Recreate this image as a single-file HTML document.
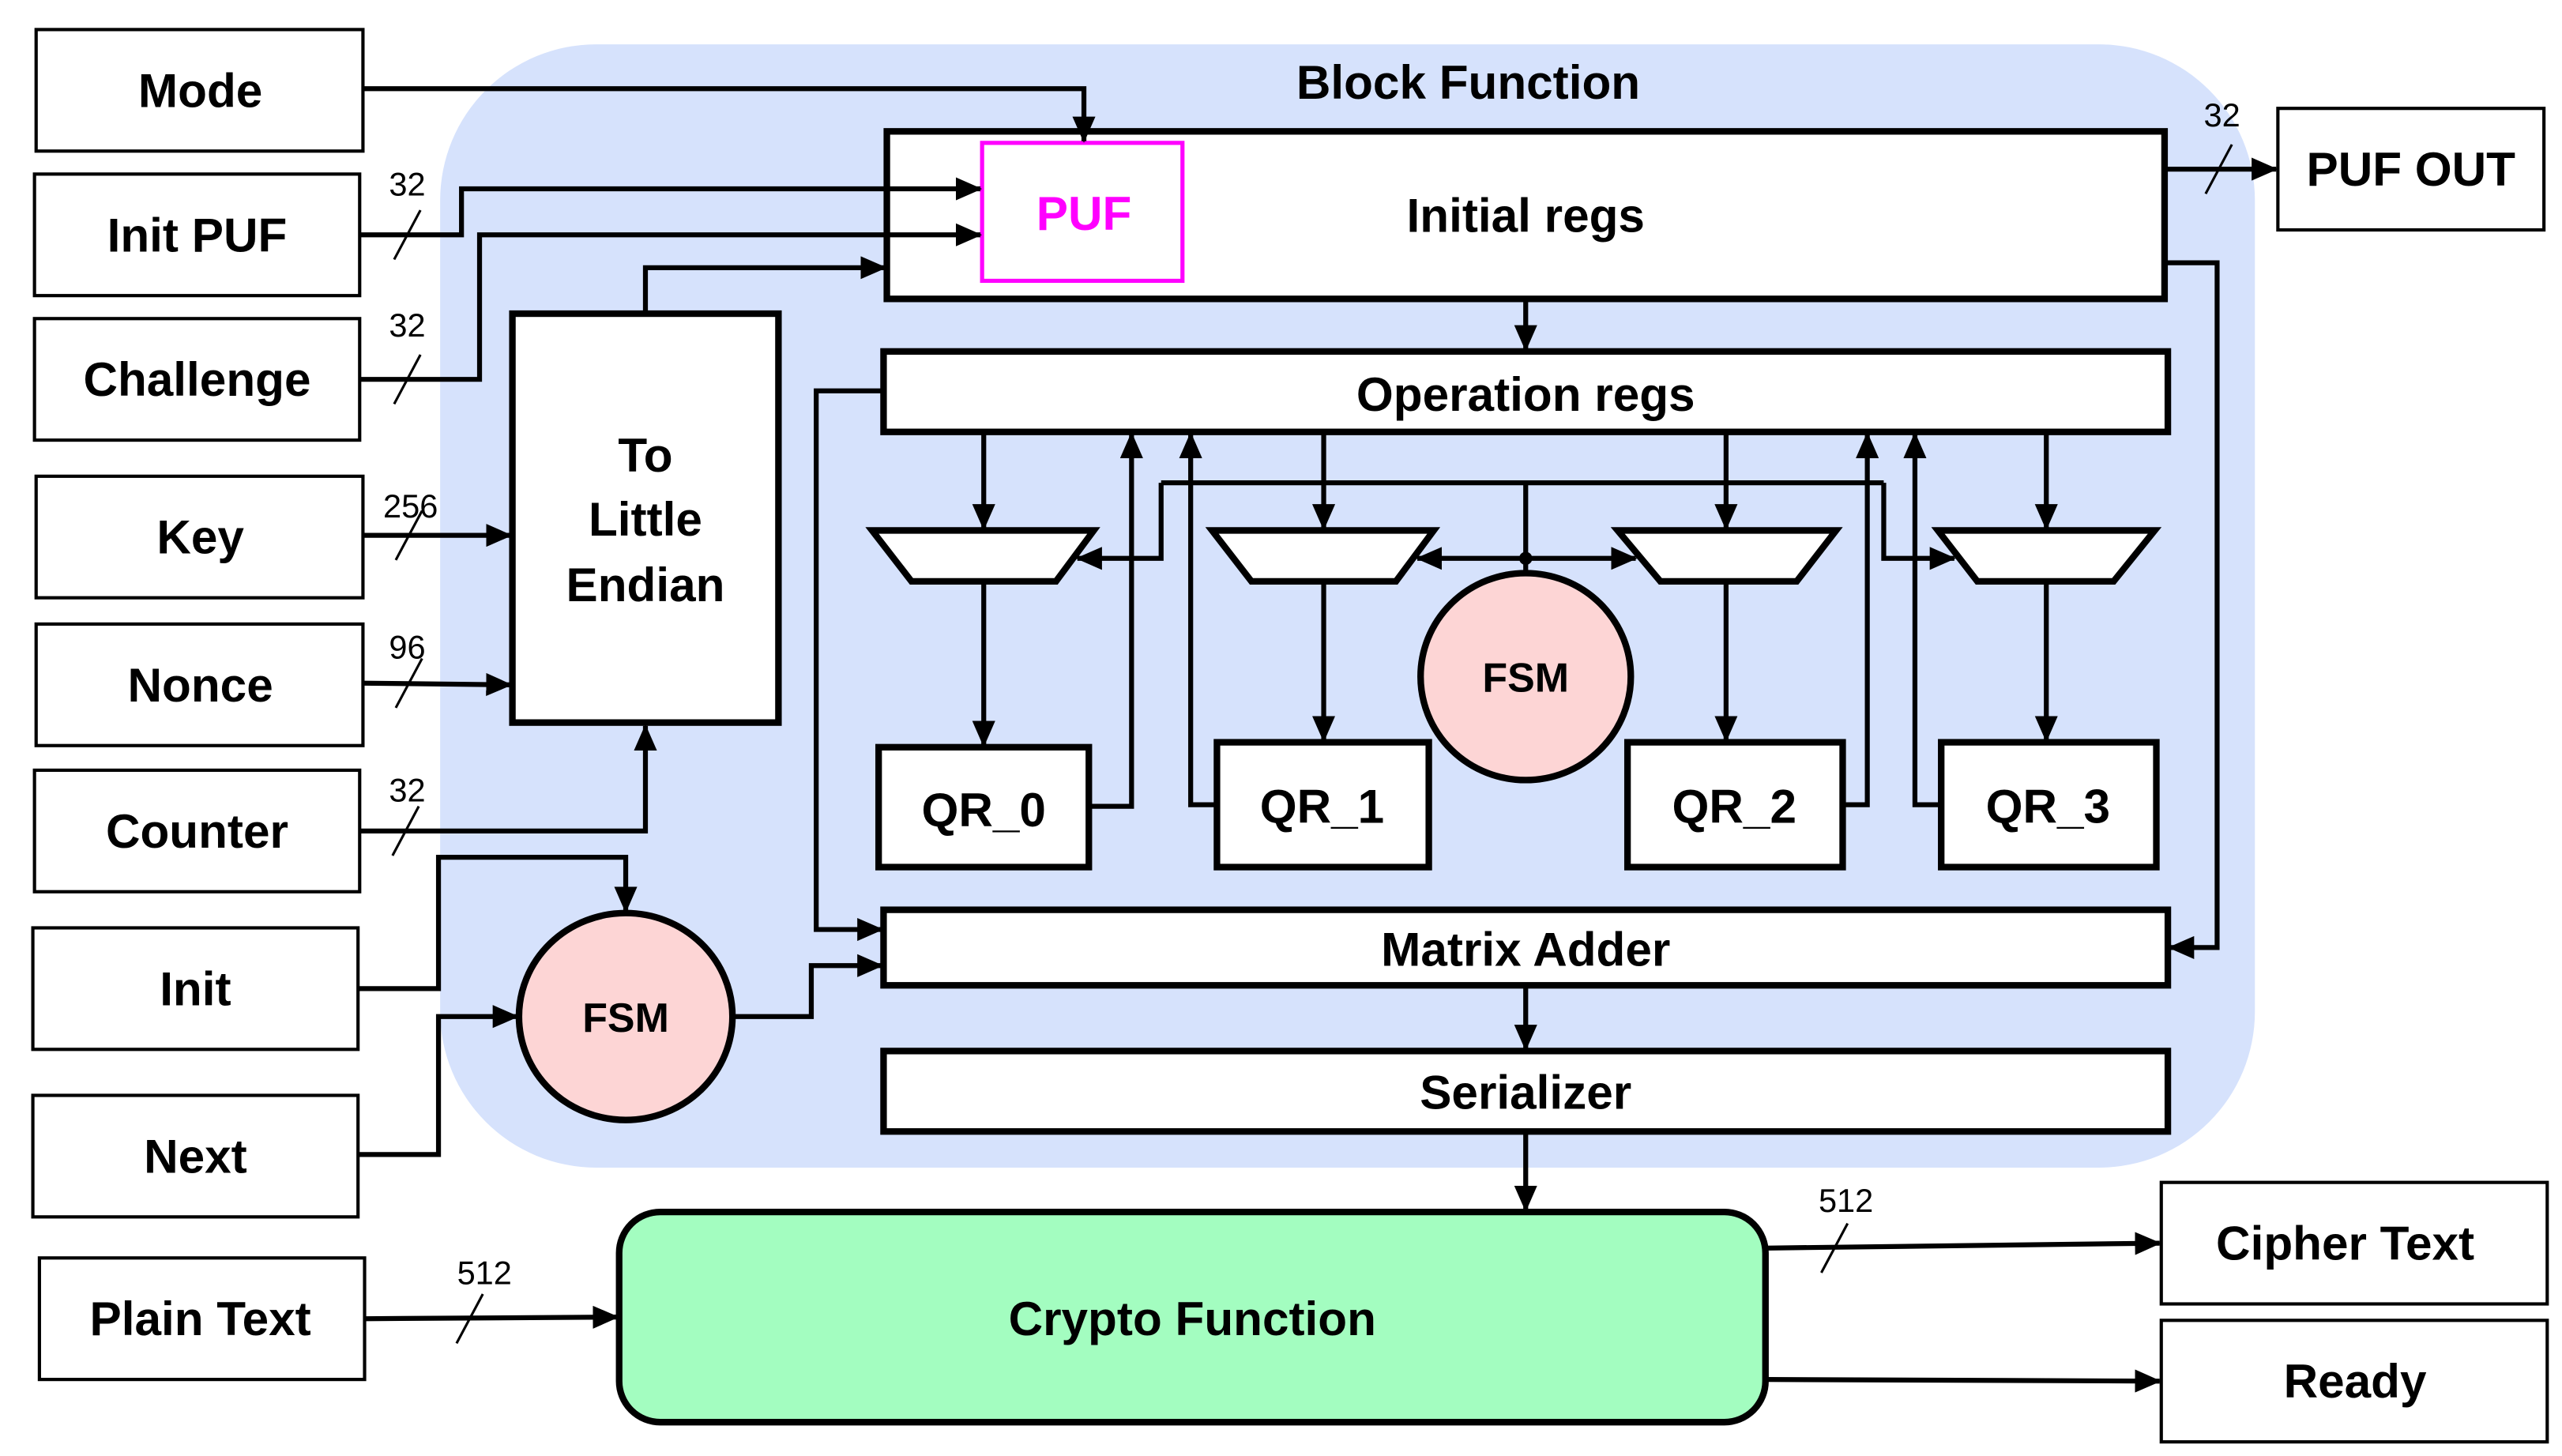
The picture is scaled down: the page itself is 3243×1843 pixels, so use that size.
<!DOCTYPE html>
<html><head><meta charset="utf-8"><style>
html,body{margin:0;padding:0;background:#fff;}
svg{display:block;}
text{font-family:"Liberation Sans",sans-serif;}
.t{font-weight:bold;font-size:29px;text-anchor:middle;dominant-baseline:central;}
.n{font-size:20px;text-anchor:middle;}
</style></head><body>
<svg width="3243" height="1843" viewBox="0 0 1560 886.6" preserveAspectRatio="none" xmlns="http://www.w3.org/2000/svg">
<defs>
<marker id="a" markerUnits="userSpaceOnUse" markerWidth="16" markerHeight="14" refX="15" refY="7" orient="auto">
<path d="M0,0 L16,7 L0,14 z" fill="#000"/>
</marker>
</defs>
<rect x="268" y="27" width="1105" height="684" rx="95" fill="#d6e2fc"/>
<text class="t" x="894" y="50">Block Function</text>

<g fill="#fff" stroke="#000" stroke-width="2">
<rect x="22" y="18" width="199" height="74"/>
<rect x="21" y="106" width="198" height="74"/>
<rect x="21" y="194" width="198" height="74"/>
<rect x="22" y="290" width="199" height="74"/>
<rect x="22" y="380" width="199" height="74"/>
<rect x="21" y="469" width="198" height="74"/>
<rect x="20" y="565" width="198" height="74"/>
<rect x="20" y="667" width="198" height="74"/>
<rect x="24" y="766" width="198" height="74"/>
<rect x="1387" y="66" width="162" height="74"/>
<rect x="1316" y="720" width="235" height="74"/>
<rect x="1316" y="804" width="235" height="74"/>
</g>
<text class="t" x="122" y="55">Mode</text>
<text class="t" x="120" y="143">Init PUF</text>
<text class="t" x="120" y="231">Challenge</text>
<text class="t" x="122" y="327">Key</text>
<text class="t" x="122" y="417">Nonce</text>
<text class="t" x="120" y="506">Counter</text>
<text class="t" x="119" y="602">Init</text>
<text class="t" x="119" y="704">Next</text>
<text class="t" x="122" y="803">Plain Text</text>
<text class="t" x="1468" y="103">PUF OUT</text>
<text class="t" x="1428" y="757">Cipher Text</text>
<text class="t" x="1434" y="841">Ready</text>

<g fill="#fff" stroke="#000" stroke-width="4">
<rect x="540" y="80" width="778" height="102"/>
<rect x="538" y="214" width="782" height="49"/>
<rect x="538" y="554" width="782" height="46"/>
<rect x="538" y="640" width="782" height="49"/>
<rect x="312" y="191" width="162" height="249"/>
<rect x="535" y="455" width="128" height="73"/>
<rect x="741" y="452" width="129" height="76"/>
<rect x="991" y="452" width="131" height="76"/>
<rect x="1182" y="452" width="131" height="76"/>
<polygon points="531,323 666,323 643,354 555,354"/>
<polygon points="738,323 873,323 850,354 762,354"/>
<polygon points="985,323 1118,323 1094,354 1011,354"/>
<polygon points="1180,323 1312,323 1287,354 1204,354"/>
</g>
<rect x="377" y="738" width="698" height="128" rx="25" fill="#a3fdc0" stroke="#000" stroke-width="4"/>
<ellipse cx="929" cy="412" rx="64" ry="63" fill="#fdd5d5" stroke="#000" stroke-width="4"/>
<ellipse cx="381" cy="619" rx="65" ry="63" fill="#fdd5d5" stroke="#000" stroke-width="4"/>
<rect x="598" y="87" width="122" height="84" fill="#fff" stroke="#ff00ff" stroke-width="2.5"/>

<text class="t" x="660" y="130" fill="#ff00ff">PUF</text>
<text class="t" x="929" y="131">Initial regs</text>
<text class="t" x="929" y="240">Operation regs</text>
<text class="t" x="929" y="578">Matrix Adder</text>
<text class="t" x="929" y="665">Serializer</text>
<text class="t" x="726" y="803">Crypto Function</text>
<text class="t" x="393" y="277">To</text>
<text class="t" x="393" y="316">Little</text>
<text class="t" x="393" y="356">Endian</text>
<text class="t" x="929" y="413" style="font-size:25px">FSM</text>
<text class="t" x="381" y="620" style="font-size:25px">FSM</text>
<text class="t" x="599" y="493">QR_0</text>
<text class="t" x="805" y="491">QR_1</text>
<text class="t" x="1056" y="491">QR_2</text>
<text class="t" x="1247" y="491">QR_3</text>

<g fill="none" stroke="#000" stroke-width="3" marker-end="url(#a)">
<polyline points="221,54 660,54 660,86"/>
<polyline points="219,143 281,143 281,115 597,115"/>
<polyline points="219,231 292,231 292,143 597,143"/>
<polyline points="393,191 393,163 539,163"/>
<polyline points="221,326 311,326"/>
<polyline points="221,416 311,417"/>
<polyline points="219,506 393,506 393,442"/>
<polyline points="218,602 267,602 267,522 381,522 381,555"/>
<polyline points="218,703 267,703 267,619 315,619"/>
<polyline points="446,619 494,619 494,588 537,588"/>
<polyline points="538,238 497,238 497,566 537,566"/>
<polyline points="929,182 929,213"/>
<polyline points="1318,160 1350,160 1350,577 1321,577"/>
<polyline points="1318,103 1386,103"/>
<polyline points="599,263 599,322"/>
<polyline points="806,263 806,322"/>
<polyline points="1051,263 1051,322"/>
<polyline points="1246,263 1246,322"/>
<polyline points="599,354 599,454"/>
<polyline points="806,354 806,451"/>
<polyline points="1051,354 1051,451"/>
<polyline points="1246,354 1246,451"/>
<polyline points="663,491 689,491 689,264"/>
<polyline points="741,490 725,490 725,264"/>
<polyline points="1122,490 1137,490 1137,264"/>
<polyline points="1182,490 1166,490 1166,264"/>
<polyline points="707,294 707,340 656,340"/>
<polyline points="929,340 863,340"/>
<polyline points="929,340 996,340"/>
<polyline points="1147,294 1147,340 1190,340"/>
<polyline points="929,600 929,639"/>
<polyline points="929,689 929,737"/>
<polyline points="222,803 376,802"/>
<polyline points="1075,760 1315,757"/>
<polyline points="1075,840 1315,841"/>
</g>
<g fill="none" stroke="#000" stroke-width="3">
<polyline points="707,294 1147,294"/>
<polyline points="929,294 929,348"/>
</g>
<circle cx="929" cy="340" r="4" fill="#000"/>

<g stroke="#000" stroke-width="1.5">
<line x1="256" y1="128" x2="240" y2="158"/>
<line x1="256" y1="216" x2="240" y2="246"/>
<line x1="257" y1="311" x2="241" y2="341"/>
<line x1="257" y1="401" x2="241" y2="431"/>
<line x1="255" y1="491" x2="239" y2="521"/>
<line x1="1359" y1="88" x2="1343" y2="118"/>
<line x1="294" y1="788" x2="278" y2="818"/>
<line x1="1125" y1="745" x2="1109" y2="775"/>
</g>
<text class="n" x="248" y="119">32</text>
<text class="n" x="248" y="205">32</text>
<text class="n" x="250" y="315">256</text>
<text class="n" x="248" y="401">96</text>
<text class="n" x="248" y="488">32</text>
<text class="n" x="1353" y="77">32</text>
<text class="n" x="295" y="782">512</text>
<text class="n" x="1124" y="738">512</text>
</svg>
</body></html>
